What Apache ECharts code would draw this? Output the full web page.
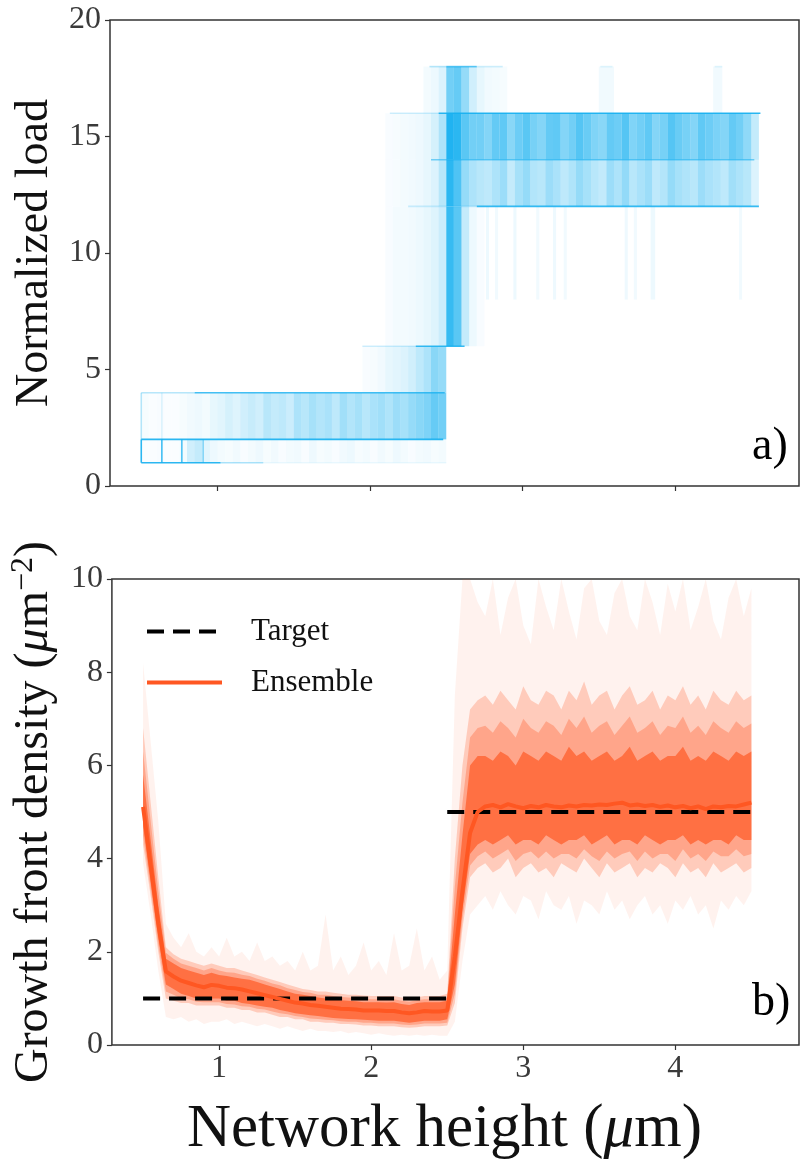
<!DOCTYPE html>
<html>
<head>
<meta charset="utf-8">
<script src="https://cdn.jsdelivr.net/npm/echarts@6.0.0/dist/echarts.min.js"></script>
<style>
html,body{margin:0;padding:0;background:#fff}
#main{width:806px;height:1172px}
</style>
</head>
<body>
<div id="main"></div>
<script>
// network height grid (um), shared by both panels
var heightGrid = [0.50,0.55,0.60,0.65,0.70,0.75,0.80,0.85,0.90,0.95,
	1.00,1.05,1.10,1.15,1.20,1.25,1.30,1.35,1.40,1.45,
	1.50,1.55,1.60,1.65,1.70,1.75,1.80,1.85,1.90,1.95,
	2.00,2.05,2.10,2.15,2.20,2.25,2.30,2.35,2.40,2.45,
	2.50,2.55,2.60,2.65,2.70,2.75,2.80,2.85,2.90,2.95,
	3.00,3.05,3.10,3.15,3.20,3.25,3.30,3.35,3.40,3.45,
	3.50,3.55,3.60,3.65,3.70,3.75,3.80,3.85,3.90,3.95,
	4.00,4.05,4.10,4.15,4.20,4.25,4.30,4.35,4.40,4.45,4.50];
var cellEdges = heightGrid.concat([4.55]);

//----------------------- panel a: normalized load -----------------------
// share of ensemble members inside each load band, per 0.05 um cell
var dens1to2 = [0.02,0.02,0.03,0.02,0.02,0.05,0.2,0.25,0.12,0.08,0.05,0.04,0.06,0.03,0.05,0.07,0.04,0.06,0.03,0.05,
	0.06,0.03,0.07,0.04,0.05,0.03,0.06,0.08,0.04,0.05,0.03,0.06,0.04,0.07,0.05,0.03,0.05,0.06,0.04,0.05];
var dens2to4 = [0.04,0.02,0.03,0.02,0.02,0.04,0.06,0.07,0.05,0.1,0.13,0.18,0.14,0.2,0.24,0.2,0.3,0.25,0.28,0.22,
	0.35,0.3,0.38,0.32,0.36,0.28,0.4,0.33,0.38,0.3,0.36,0.4,0.34,0.42,0.38,0.45,0.5,0.55,0.65,0.6];
var dens4to6 = [0.03,0.04,0.06,0.1,0.12,0.15,0.2,0.28,0.35,0.5,0.45];
var dens6to12 = [0.03,0.05,0.05,0.06,0.08,0.1,0.14,0.22,0.85,0.7,0.25,0.08,0.03];
var dens12to14 = [0.03,0.04,0.05,0.06,0.07,0.1,0.15,0.3,0.9,0.75,0.45,0.35,
	0.3,0.28,0.35,0.42,0.25,0.38,0.45,0.33,0.3,0.42,0.36,0.28,0.34,0.45,0.38,0.3,0.26,0.42,
	0.35,0.46,0.3,0.36,0.42,0.28,0.32,0.45,0.38,0.34,0.3,0.42,0.36,0.33,0.28,0.4,0.35,0.3,0.15];
var dens14to16 = [0.03,0.04,0.05,0.06,0.07,0.1,0.18,0.35,0.95,0.9,0.7,0.6,
	0.6,0.52,0.66,0.68,0.5,0.62,0.7,0.58,0.52,0.66,0.68,0.52,0.6,0.72,0.64,0.54,0.5,0.66,
	0.62,0.72,0.54,0.6,0.68,0.52,0.58,0.72,0.64,0.58,0.52,0.68,0.62,0.56,0.52,0.66,0.6,0.48,0.25];
var dens16to18 = [0.05,0.08,0.15,0.6,0.65,0.45,0.2,0.1,0.06,0.05,0.04];
// [lower load, upper load, first cell x, densities]
var loadBands = [
	[1, 2, 0.50, dens1to2],
	[2, 4, 0.50, dens2to4],
	[4, 6, 1.95, dens4to6],
	[6, 12, 2.10, dens6to12],
	[12, 14, 2.10, dens12to14],
	[14, 16, 2.10, dens14to16],
	[16, 18, 2.35, dens16to18]
];
// isolated faint traces [x0, x1, lower, upper, share]
var loadFaint = [
	[3.50,3.60,16,18,0.06],[4.25,4.31,16,18,0.06],
	[2.76,2.78,8,12,0.08],[2.82,2.84,8,12,0.06],[2.94,2.96,8,12,0.08],[3.09,3.11,8,12,0.06],
	[3.20,3.22,8,12,0.07],[3.27,3.29,8,12,0.06],[3.67,3.69,8,12,0.07],[3.73,3.75,8,12,0.06],
	[3.84,3.87,8,12,0.08],[4.42,4.44,8,12,0.06]
];
// plateaus [x0, x1, load, share]
var loadLevels = [
	[0.50,1.02,1,0.9],[1.02,1.30,1,0.35],[1.30,2.50,1,0.08],
	[0.50,2.48,2,0.9],
	[0.50,0.85,4,0.3],[0.85,2.49,4,0.8],
	[1.95,2.30,6,0.2],[2.30,2.62,6,0.85],
	[2.25,2.70,12,0.2],[2.70,4.55,12,0.85],
	[2.40,4.52,14,0.55],
	[2.13,2.45,16,0.2],[2.45,4.56,16,0.9],
	[2.39,2.50,18,0.3],[2.50,2.70,18,0.7],[2.70,2.87,18,0.2],[3.51,3.59,18,0.12],[4.26,4.31,18,0.12]
];
// jumps [x, from load, to load, share]
var loadJumps = [
	[0.50,1,2,0.9],[0.50,2,4,0.3],[0.635,1,2,0.8],[0.635,2,4,0.12],[0.766,1,2,0.75],[0.906,1,2,0.45]
];

//----------------------- panel b: growth front density -----------------------
var ensembleMean = [5.11,3.86,2.61,1.58,1.47,1.38,1.33,1.28,1.24,1.29,
	1.27,1.23,1.22,1.19,1.15,1.11,1.07,1.03,0.99,0.95,
	0.91,0.89,0.86,0.84,0.82,0.80,0.78,0.77,0.76,0.74,
	0.74,0.74,0.73,0.73,0.70,0.68,0.70,0.73,0.72,0.72,
	0.74,1.90,3.30,4.55,5.00,5.12,5.15,5.10,5.17,5.12,
	5.08,5.13,5.10,5.15,5.12,5.10,5.14,5.12,5.15,5.14,
	5.16,5.15,5.18,5.20,5.14,5.16,5.13,5.15,5.11,5.14,
	5.10,5.13,5.08,5.12,5.06,5.12,5.10,5.13,5.12,5.16,5.20];
// spread of the ensemble members: outer, middle, inner and core envelopes
var outerLo = [3.9,2.8,1.6,0.6,0.55,0.6,0.5,0.55,0.45,0.5,
	0.5,0.55,0.45,0.5,0.45,0.4,0.45,0.4,0.35,0.4,
	0.35,0.3,0.35,0.3,0.3,0.28,0.3,0.25,0.28,0.25,
	0.22,0.25,0.22,0.2,0.22,0.2,0.22,0.2,0.22,0.2,
	0.2,0.5,1.8,2.8,3.0,3.2,2.9,3.3,3.0,2.8,
	3.2,3.1,2.7,3.3,3.0,2.9,3.2,2.6,3.1,3.0,
	2.8,3.3,2.9,3.1,2.7,3.0,3.2,2.8,3.0,2.6,
	3.1,2.9,3.2,2.8,3.0,2.5,3.1,2.9,3.2,3.0,3.3];
var outerHi = [8.2,6.5,4.8,2.6,2.3,2.1,2.4,2.0,1.9,2.1,
	1.9,2.3,1.9,2.0,1.8,2.2,1.8,1.9,1.7,1.8,
	1.6,2.0,1.6,1.7,2.8,1.6,1.9,1.5,1.7,2.2,
	1.6,1.8,1.5,2.4,1.6,1.7,2.5,1.6,1.9,1.4,
	1.6,7.5,10,10,9.5,9.2,10,8.8,9.6,10,
	9.0,8.6,10,9.4,8.9,10,9.3,8.7,9.8,10,
	9.1,8.8,9.7,10,9.2,8.9,10,9.5,8.8,9.9,
	9.3,10,8.9,9.4,10,9.1,8.7,9.6,10,9.2,9.8];
var midLo = [4.3,3.2,2.0,1.0,0.95,0.9,0.9,0.85,0.85,0.85,
	0.85,0.8,0.8,0.75,0.75,0.7,0.7,0.65,0.6,0.6,
	0.55,0.55,0.5,0.5,0.48,0.48,0.45,0.45,0.44,0.42,
	0.42,0.4,0.4,0.4,0.38,0.37,0.38,0.4,0.4,0.4,
	0.42,0.9,2.5,3.6,3.8,3.9,3.7,3.8,4.0,3.6,
	3.8,3.9,3.7,3.8,3.6,3.9,3.8,3.7,4.0,3.8,
	3.6,3.9,3.7,3.8,3.9,3.6,3.8,3.7,3.9,3.8,
	3.6,3.9,3.7,3.8,3.6,3.9,3.7,3.8,3.9,3.7,3.8];
var midHi = [6.8,5.2,3.6,2.1,1.95,1.85,1.8,1.75,1.7,1.75,
	1.7,1.65,1.65,1.6,1.55,1.5,1.45,1.4,1.35,1.3,
	1.25,1.2,1.18,1.15,1.15,1.12,1.1,1.08,1.08,1.06,
	1.05,1.05,1.05,1.05,1.02,1.0,1.02,1.05,1.05,1.05,
	1.1,4.0,6.0,7.2,7.4,7.5,7.3,7.6,7.4,7.2,
	7.7,7.4,7.3,7.6,7.5,7.2,7.6,7.4,7.8,7.3,
	7.5,7.6,7.2,7.5,7.7,7.3,7.4,7.6,7.2,7.5,
	7.4,7.7,7.3,7.5,7.2,7.6,7.4,7.3,7.6,7.4,7.5];
var innerLo = [4.5,3.35,2.15,1.15,1.08,1.0,0.98,0.93,0.92,0.92,
	0.92,0.88,0.87,0.83,0.82,0.78,0.76,0.72,0.68,0.66,
	0.62,0.6,0.57,0.56,0.54,0.53,0.51,0.5,0.5,0.48,
	0.48,0.46,0.46,0.46,0.44,0.43,0.44,0.46,0.46,0.46,
	0.48,1.1,2.7,3.85,4.05,4.15,4.0,4.1,4.2,3.95,
	4.1,4.15,4.0,4.15,4.0,4.1,4.1,4.0,4.2,4.05,
	3.95,4.15,4.0,4.1,4.15,3.95,4.15,4.0,4.1,4.1,
	3.95,4.2,4.0,4.1,3.95,4.15,4.05,4.05,4.2,4.05,4.1];
var innerHi = [6.3,4.8,3.3,1.98,1.85,1.75,1.7,1.65,1.6,1.65,
	1.6,1.56,1.55,1.51,1.48,1.42,1.38,1.32,1.28,1.22,
	1.18,1.14,1.12,1.08,1.08,1.05,1.03,1.02,1.01,0.99,
	0.98,0.98,0.98,0.98,0.95,0.93,0.96,0.98,0.98,0.98,
	1.02,3.4,5.2,6.6,6.8,6.85,6.7,6.95,6.8,6.6,
	7.0,6.8,6.7,6.95,6.85,6.65,7.0,6.8,7.05,6.7,
	6.85,6.95,6.65,6.85,7.05,6.7,6.8,6.95,6.65,6.85,
	6.8,7.05,6.7,6.85,6.65,6.95,6.8,6.7,6.95,6.8,6.9];
var coreLo = [4.7,3.5,2.3,1.3,1.2,1.1,1.05,1.0,1.0,1.0,
	1.0,0.95,0.95,0.9,0.88,0.85,0.82,0.8,0.75,0.72,
	0.68,0.66,0.64,0.62,0.6,0.58,0.57,0.56,0.55,0.54,
	0.53,0.52,0.52,0.52,0.5,0.48,0.5,0.52,0.52,0.52,
	0.55,1.3,2.9,4.1,4.3,4.4,4.3,4.4,4.5,4.3,
	4.4,4.4,4.3,4.5,4.4,4.3,4.4,4.4,4.5,4.3,
	4.4,4.5,4.3,4.4,4.4,4.3,4.5,4.4,4.3,4.4,
	4.4,4.5,4.3,4.4,4.3,4.4,4.4,4.3,4.5,4.4,4.4];
var coreHi = [5.8,4.4,3.0,1.85,1.75,1.65,1.6,1.55,1.5,1.55,
	1.5,1.48,1.45,1.42,1.4,1.35,1.3,1.25,1.2,1.15,
	1.1,1.08,1.05,1.02,1.0,0.98,0.96,0.95,0.94,0.92,
	0.92,0.92,0.91,0.92,0.88,0.86,0.9,0.92,0.92,0.92,
	0.95,2.8,4.5,6.0,6.2,6.2,6.1,6.3,6.2,6.0,
	6.3,6.2,6.1,6.3,6.2,6.1,6.4,6.2,6.3,6.1,
	6.2,6.3,6.1,6.2,6.4,6.1,6.2,6.3,6.1,6.2,
	6.2,6.4,6.1,6.2,6.1,6.3,6.2,6.1,6.3,6.2,6.3];
// target density: [x, value]
var target = [[0.5,1],[2.5,1],[2.5,'-'],[2.5,5],[4.5,5]];

var blue = '20,175,240';
var orange = '255,87,34';
var serif = '"Liberation Serif", "DejaVu Serif", serif';

// build load panel rows
var cellRows = [];
loadBands.forEach(function (b) {
	var s = heightGrid.indexOf(b[2]);
	b[3].forEach(function (d, k) {
		cellRows.push([cellEdges[s + k], cellEdges[s + k + 1], b[0], b[1], d]);
	});
});
loadFaint.forEach(function (r) { cellRows.push(r); });
var lineRows = [];
loadLevels.forEach(function (r) { lineRows.push([r[0], r[1], r[2], r[2], r[3]]); });
loadJumps.forEach(function (r) { lineRows.push([r[0], r[0], r[1], r[2], r[3]]); });

function pairs(arr) {
	return heightGrid.map(function (x, i) { return [x, arr[i]]; });
}
// envelope band drawn as one polygon from [x, lo, hi] rows
function band(lo, hi, alpha) {
	return {
		type: 'custom', xAxisIndex: 1, yAxisIndex: 1, silent: true, clip: true, z: 2,
		data: heightGrid.map(function (x, i) { return [x, lo[i], hi[i]]; }),
		renderItem: function (params, api) {
			if (params.dataIndexInside !== 0) return null;
			var n = heightGrid.length, top = [], bot = [];
			for (var i = 0; i < n; i++) {
				top.push(api.coord([api.value(0, i), api.value(2, i)]));
				bot.unshift(api.coord([api.value(0, i), api.value(1, i)]));
			}
			return {
				type: 'polygon',
				shape: { points: top.concat(bot) },
				style: { fill: 'rgba(' + orange + ',' + alpha + ')' }
			};
		}
	};
}

var axisTxt = { fontFamily: serif, fontSize: 32, color: '#3a3a3a' };
var nameTxt = { fontFamily: serif, fontSize: 46, color: '#111' };

var myChart = echarts.init(document.getElementById('main'));
var option = {
	animation: false,
	backgroundColor: '#fff',
	grid: [
		{ left: 110, right: 7, top: 20, height: 466, show: true, borderColor: '#333', borderWidth: 1.5 },
		{ left: 110, right: 7, top: 579, height: 466, show: true, borderColor: '#333', borderWidth: 1.5 }
	],
	xAxis: [{
		gridIndex: 0, type: 'value', min: 0.295, max: 4.813,
		axisLine: { show: false }, splitLine: { show: false },
		axisTick: { show: true, length: 5, customValues: [1, 2, 3, 4], lineStyle: { color: '#333', width: 1.2 } },
		axisLabel: { show: false }
	}, {
		gridIndex: 1, type: 'value', min: 0.295, max: 4.813,
		axisLine: { show: false }, splitLine: { show: false },
		axisTick: { show: true, length: 5, customValues: [1, 2, 3, 4], lineStyle: { color: '#333', width: 1.2 } },
		axisLabel: Object.assign({ customValues: [1, 2, 3, 4], margin: 8 }, axisTxt),
		name: 'Network height ({i|μ}m)', nameLocation: 'middle', nameGap: 54,
		nameTextStyle: {
			fontFamily: serif, fontSize: 61, color: '#111', padding: [0, 22, 0, 0],
			rich: { i: { fontFamily: serif, fontSize: 61, fontStyle: 'italic', color: '#111' } }
		}
	}],
	yAxis: [{
		gridIndex: 0, type: 'value', min: 0, max: 20, interval: 5,
		axisLine: { show: false }, splitLine: { show: false },
		axisTick: { show: true, length: 5, lineStyle: { color: '#333', width: 1.2 } },
		axisLabel: Object.assign({ margin: 9 }, axisTxt),
		name: 'Normalized load', nameLocation: 'middle', nameGap: 52, nameTextStyle: nameTxt
	}, {
		gridIndex: 1, type: 'value', min: 0, max: 10, interval: 2,
		axisLine: { show: false }, splitLine: { show: false },
		axisTick: { show: true, length: 5, lineStyle: { color: '#333', width: 1.2 } },
		axisLabel: Object.assign({ margin: 9 }, axisTxt),
		name: 'Growth front density ({i|μ}m{s|−2})', nameLocation: 'middle', nameGap: 48,
		nameTextStyle: {
			fontFamily: serif, fontSize: 48, color: '#111', lineHeight: 52,
			rich: {
				i: { fontFamily: serif, fontSize: 48, fontStyle: 'italic', color: '#111', lineHeight: 52 },
				s: { fontFamily: serif, fontSize: 32, color: '#111', verticalAlign: 'top', lineHeight: 30 }
			}
		}
	}],
	legend: {
		orient: 'vertical', left: 140, top: 611, itemWidth: 75, itemHeight: 14, itemGap: 20,
		data: ['Target', 'Ensemble'],
		itemStyle: { opacity: 0, borderWidth: 0 },
		lineStyle: { width: 4 },
		textStyle: { fontFamily: serif, fontSize: 31, color: '#111', lineHeight: 30, padding: [0, 0, 0, 24] }
	},
	graphic: [
		{ type: 'text', left: 752, top: 424, z: 100, style: { text: 'a)', font: '46px ' + serif, fill: '#000' } },
		{ type: 'text', left: 752, top: 980, z: 100, style: { text: 'b)', font: '46px ' + serif, fill: '#000' } }
	],
	series: [{
		type: 'custom', xAxisIndex: 0, yAxisIndex: 0, silent: true, clip: true,
		renderItem: function (params, api) {
			var p0 = api.coord([api.value(0), api.value(3)]);
			var p1 = api.coord([api.value(1), api.value(2)]);
			return {
				type: 'rect',
				shape: { x: p0[0], y: p0[1], width: p1[0] - p0[0], height: p1[1] - p0[1] },
				style: { fill: 'rgba(' + blue + ',' + api.value(4) + ')' }
			};
		},
		data: cellRows
	}, {
		type: 'custom', xAxisIndex: 0, yAxisIndex: 0, silent: true, clip: true,
		renderItem: function (params, api) {
			var p0 = api.coord([api.value(0), api.value(2)]);
			var p1 = api.coord([api.value(1), api.value(3)]);
			return {
				type: 'line',
				shape: { x1: p0[0], y1: p0[1], x2: p1[0], y2: p1[1] },
				style: { stroke: 'rgba(' + blue + ',' + api.value(4) + ')', lineWidth: 1.6 }
			};
		},
		data: lineRows
	},
		band(outerLo, outerHi, 0.08),
		band(midLo, midHi, 0.25),
		band(innerLo, innerHi, 0.32),
		band(coreLo, coreHi, 0.68),
	{
		name: 'Target', type: 'line', xAxisIndex: 1, yAxisIndex: 1, symbol: 'none',
		color: '#000', lineStyle: { color: '#000', width: 4, type: [17, 9] },
		data: target, z: 5
	}, {
		name: 'Ensemble', type: 'line', xAxisIndex: 1, yAxisIndex: 1, symbol: 'none',
		color: '#FF5722', lineStyle: { color: '#FF5722', width: 4 },
		data: pairs(ensembleMean), z: 6
	}]
};
myChart.setOption(option);
</script>
</body>
</html>
